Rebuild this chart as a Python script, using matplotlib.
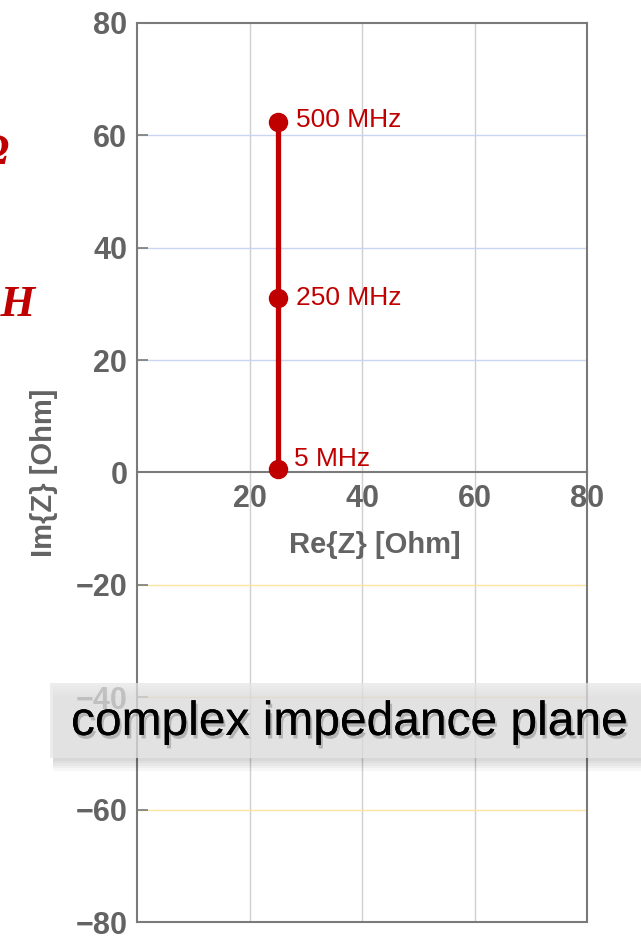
import matplotlib.pyplot as plt
import matplotlib.patheffects as pe
from matplotlib.patches import Rectangle

plt.rcParams['font.family'] = ['Liberation Sans', 'DejaVu Sans']

# data
freq_labels = ['5 MHz', '250 MHz', '500 MHz']
re_z = [25, 25, 25]
im_z = [0.6, 31.0, 62.4]
x_ticks = [20, 40, 60, 80]
y_ticks = [-80, -60, -40, -20, 0, 20, 40, 60, 80]
x_grid = [20, 40, 60]
y_grid_pos = [20, 40, 60]
y_grid_neg = [-20, -40, -60]

red = '#c00000'
gray_txt = '#636363'
spine_col = '#7a7a7a'

fig = plt.figure(figsize=(6.41, 9.38), dpi=100)
ax = fig.add_axes([137/641, 16/938, 450/641, 899/938])
ax.set_xlim(0, 80)
ax.set_ylim(-80, 80)

# grid lines
for x in x_grid:
    ax.axvline(x, color='#cfcfcf', lw=1, zorder=0)
for y in y_grid_pos:
    ax.axhline(y, color='#c8d6f2', lw=1, zorder=0)
for y in y_grid_neg:
    ax.axhline(y, color='#fbe3a0', lw=1, zorder=0)

# spines, x axis through zero
for s in ax.spines.values():
    s.set_color(spine_col)
    s.set_linewidth(1.5)
ax.spines['bottom'].set_position(('data', 0))
ax.plot([0, 1], [0, 0], transform=ax.transAxes, color=spine_col, lw=1.5, clip_on=False)

ax.set_yticks(y_ticks)
ax.set_xticks(x_ticks)
ax.tick_params(axis='y', direction='in', length=8, width=1.2, color=spine_col,
               labelsize=22, labelcolor=gray_txt, pad=7)
ax.tick_params(axis='x', length=0, pad=8, labelsize=22, labelcolor=gray_txt)
for lbl in ax.get_xticklabels() + ax.get_yticklabels():
    lbl.set_fontweight('bold')

ax.set_xlabel('Re{Z} [Ohm]', fontsize=21, fontweight='bold', color=gray_txt)
ax.xaxis.set_label_coords(0.529, 0.435)
ax.set_ylabel('Im{Z} [Ohm]', fontsize=21, fontweight='bold', color=gray_txt)
ax.yaxis.set_label_coords(-0.176, 0.5)

# impedance trace
ax.plot(re_z, im_z, color=red, lw=3.8, marker='o', ms=13, zorder=3, clip_on=False)
offsets = [(11.5, 7), (13.5, 0.5), (13.5, 1.5)]
for lab, x, y, off in zip(freq_labels, re_z, im_z, offsets):
    ax.annotate(lab, (x, y), xytext=off, textcoords='offset points',
                ha='left', va='center', color=red, fontsize=19)

# cropped red labels at the left edge
serif = ['Liberation Serif', 'DejaVu Serif']
fig.text(9/641, 1 - 153/938, 'R = 25 Ω', ha='right', va='center', fontsize=32,
         fontweight='bold', style='italic', family=serif, color=red)
fig.text(35/641, 1 - 305/938, 'L = 20 nH', ha='right', va='center', fontsize=32,
         fontweight='bold', style='italic', family=serif, color=red)

# caption box with soft shadow
bx, by, bh = 50/641, 1 - 758/938, 75/938
for i in range(5):
    d = (i + 1) * 2.5 / 938
    fig.add_artist(Rectangle((bx + 0.004, by - d), 1.0, bh, transform=fig.transFigure,
                             facecolor='black', alpha=0.03, edgecolor='none', zorder=5))
fig.add_artist(Rectangle((bx, by), 1.0, bh, transform=fig.transFigure,
                         facecolor=(0.82, 0.82, 0.82), alpha=0.6, edgecolor='none', zorder=5))
fig.add_artist(Rectangle((bx, by), 1.0, bh, transform=fig.transFigure,
                         facecolor='white', alpha=0.35, edgecolor='none', zorder=5))
fig.text(71/641, 1 - 735/938, 'complex impedance plane', fontsize=34.5, ha='left',
         va='baseline', color='black', zorder=6,
         path_effects=[pe.withSimplePatchShadow(offset=(1.5, -2.5), shadow_rgbFace='black', alpha=0.2),
                       pe.Normal()])

fig.savefig('out.png', dpi=100)
